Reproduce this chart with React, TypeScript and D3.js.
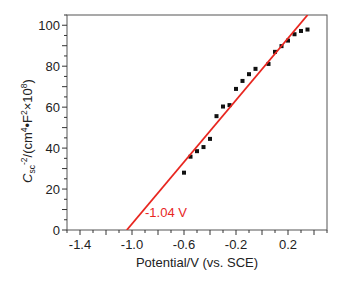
import React from "react";
import * as d3 from "d3";

const potentials = [-0.6, -0.55, -0.5, -0.45, -0.4, -0.35, -0.3, -0.25, -0.2, -0.15, -0.1, -0.05, 0.05, 0.1, 0.15, 0.2, 0.25, 0.3, 0.35];
const csc = [28, 35.8, 38.5, 40.5, 44.5, 55.6, 60.3, 61, 68.9, 72.8, 76.1, 78.7, 81.1, 87, 89.8, 92.5, 95.6, 97.2, 97.9];
const xTickLabels = [-1.4, -1.0, -0.6, -0.2, 0.2];
const yTickLabels = [0, 20, 40, 60, 80, 100];
const fitIntercept = -1.04;
const fitSlope = 75.5;
const fitLabel = "-1.04 V";

const W = 346, H = 281;
const m = { left: 67, top: 15, right: 19, bottom: 51 };
const font = "'Liberation Sans', Arial, sans-serif";

export default function App() {
  const x = d3.scaleLinear().domain([-1.5, 0.5]).range([m.left, W - m.right]);
  const y = d3.scaleLinear().domain([0, 105]).range([H - m.bottom, m.top]);
  const x0 = x.range()[0], x1 = x.range()[1];
  const y0 = y.range()[0], y1 = y.range()[1];

  const xMinor = d3.range(-1.5, 0.5001, 0.1).map((v) => +v.toFixed(2));
  const yMinor = d3.range(0, 105.01, 5);

  const fitEndX = fitIntercept + 105 / fitSlope;
  const fitLine = d3.line<[number, number]>().x((d) => x(d[0])).y((d) => y(d[1]));
  const fitPts: [number, number][] = [
    [fitIntercept, 0],
    [fitEndX, fitSlope * (fitEndX - fitIntercept)],
  ];

  return (
    <svg width={W} height={H} style={{ position: "absolute", left: 0, top: 0, background: "#fff" }}>
      <defs>
        <clipPath id="plot">
          <rect x={x0} y={y1} width={x1 - x0} height={y0 - y1} />
        </clipPath>
      </defs>
      {/* frame */}
      <rect x={x0} y={y1} width={x1 - x0} height={y0 - y1} fill="none" stroke="#555" strokeWidth={1} />
      {/* x ticks */}
      {xMinor.map((v, i) => {
        const major = Math.round(v * 10) % 2 === 0;
        return (
          <line key={"xt" + i} x1={x(v)} x2={x(v)} y1={y0} y2={y0 + (major ? 5 : 3)} stroke="#333" strokeWidth={1} />
        );
      })}
      {xTickLabels.map((v) => (
        <text key={"xl" + v} x={x(v)} y={y0 + 19} textAnchor="middle" fontFamily={font} fontSize={13} fill="#222">
          {v.toFixed(1)}
        </text>
      ))}
      {/* y ticks */}
      {yMinor.map((v) => {
        const major = v % 10 === 0;
        return (
          <line key={"yt" + v} x1={x0} x2={x0 - (major ? 5 : 3)} y1={y(v)} y2={y(v)} stroke="#333" strokeWidth={1} />
        );
      })}
      {yTickLabels.map((v) => (
        <text key={"yl" + v} x={x0 - 7} y={y(v) + 4.6} textAnchor="end" fontFamily={font} fontSize={13} fill="#222">
          {v}
        </text>
      ))}
      {/* data */}
      {potentials.map((p, i) => (
        <rect key={"p" + i} x={x(p) - 2} y={y(csc[i]) - 2} width={4} height={4} fill="#111" />
      ))}
      {/* fit */}
      <path d={fitLine(fitPts) || ""} stroke="#e8261f" strokeWidth={1.8} fill="none" clipPath="url(#plot)" />
      <text x={145} y={216.5} fontFamily={font} fontSize={13} fill="#e8261f">{fitLabel}</text>
      {/* axis titles */}
      <text x={(x0 + x1) / 2} y={267} textAnchor="middle" fontFamily={font} fontSize={13} fill="#222">
        Potential/V (vs. SCE)
      </text>
      <text transform={`translate(32,131) rotate(-90)`} textAnchor="middle" fontFamily={font} fontSize={13} fill="#222">
        <tspan fontStyle="italic">C</tspan>
        <tspan fontSize={8.5} dy={3}>sc</tspan>
        <tspan fontSize={8.5} dy={-8.5}>-2</tspan>
        <tspan dy={5.5}>/(cm</tspan>
        <tspan fontSize={8.5} dy={-5.5}>4</tspan>
        <tspan dy={5.5}>•F</tspan>
        <tspan fontSize={8.5} dy={-5.5}>2</tspan>
        <tspan dy={5.5}>×10</tspan>
        <tspan fontSize={8.5} dy={-5.5}>8</tspan>
        <tspan dy={5.5}>)</tspan>
      </text>
    </svg>
  );
}
